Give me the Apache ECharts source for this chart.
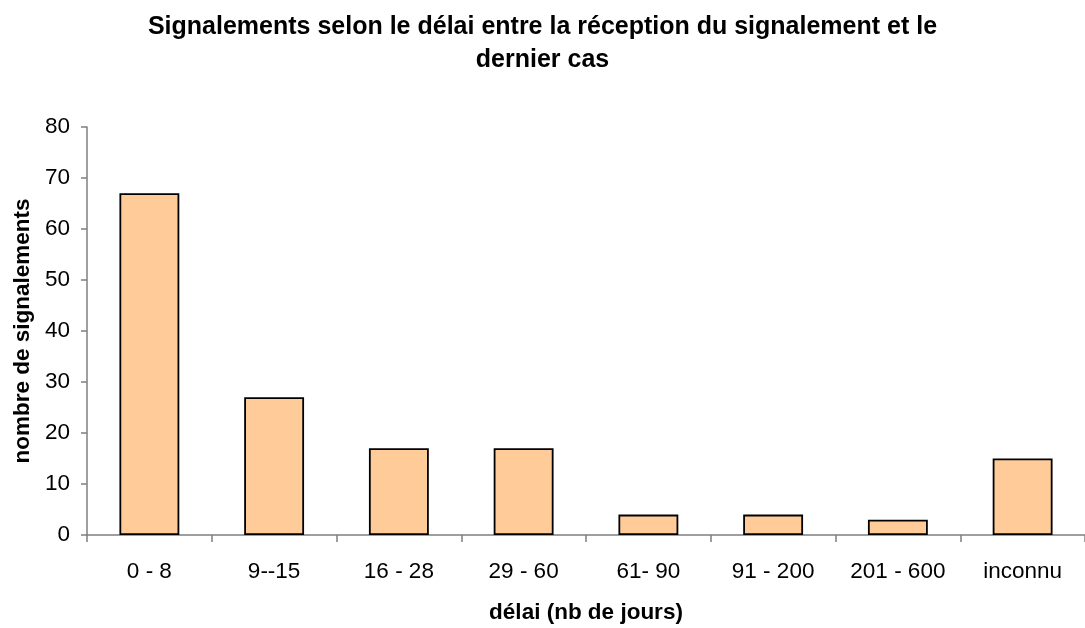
<!DOCTYPE html>
<html><head><meta charset="utf-8">
<script src="https://cdn.jsdelivr.net/npm/echarts@6/dist/echarts.min.js"></script>
<style>html,body{margin:0;padding:0;background:#fff}#c{width:1085px;height:628px}</style>
</head><body><div id="c"></div>
<script>
const categories = ['0 - 8', '9--15', '16 - 28', '29 - 60', '61- 90', '91 - 200', '201 - 600', 'inconnu'];
const values = [67, 27, 17, 17, 4, 4, 3, 15];
const yTicks = {min: 0, max: 80, interval: 10};
const chart = echarts.init(document.getElementById('c'));
const F = 'Liberation Sans, Arial, sans-serif';
chart.setOption({
  animation: false,
  title: {
    text: 'Signalements selon le délai entre la réception du signalement et le\ndernier cas',
    left: 'center', top: 6,
    textStyle: {fontFamily: F, fontSize: 25, fontWeight: 'bold', color: '#000', lineHeight: 33}
  },
  grid: {left: 87, right: 0, top: 127, bottom: 93, outerBoundsMode: 'none', containLabel: false},
  xAxis: {
    type: 'category', data: categories,
    name: 'délai (nb de jours)', nameLocation: 'middle', nameGap: 66,
    nameTextStyle: {fontFamily: F, fontSize: 22.5, fontWeight: 'bold', color: '#000'},
    axisLine: {lineStyle: {color: '#7f7f7f', width: 1.5}},
    axisTick: {show: true, length: 7, alignWithLabel: false, lineStyle: {color: '#7f7f7f', width: 1.5}},
    axisLabel: {fontFamily: F, fontSize: 22.5, color: '#000', margin: 25}
  },
  yAxis: {
    type: 'value', min: yTicks.min, max: yTicks.max, interval: yTicks.interval,
    name: 'nombre de signalements', nameLocation: 'middle', nameGap: 53,
    nameTextStyle: {fontFamily: F, fontSize: 22.5, fontWeight: 'bold', color: '#000'},
    axisLine: {show: true, lineStyle: {color: '#7f7f7f', width: 1.5}},
    axisTick: {show: true, length: 6, lineStyle: {color: '#7f7f7f', width: 1.5}},
    splitLine: {show: false},
    axisLabel: {fontFamily: F, fontSize: 22.5, color: '#000', margin: 17}
  },
  series: [{
    type: 'bar', data: values, barWidth: '48%',
    itemStyle: {color: '#FFCC99', borderColor: '#000', borderWidth: 1.8}
  }]
});
</script></body></html>
